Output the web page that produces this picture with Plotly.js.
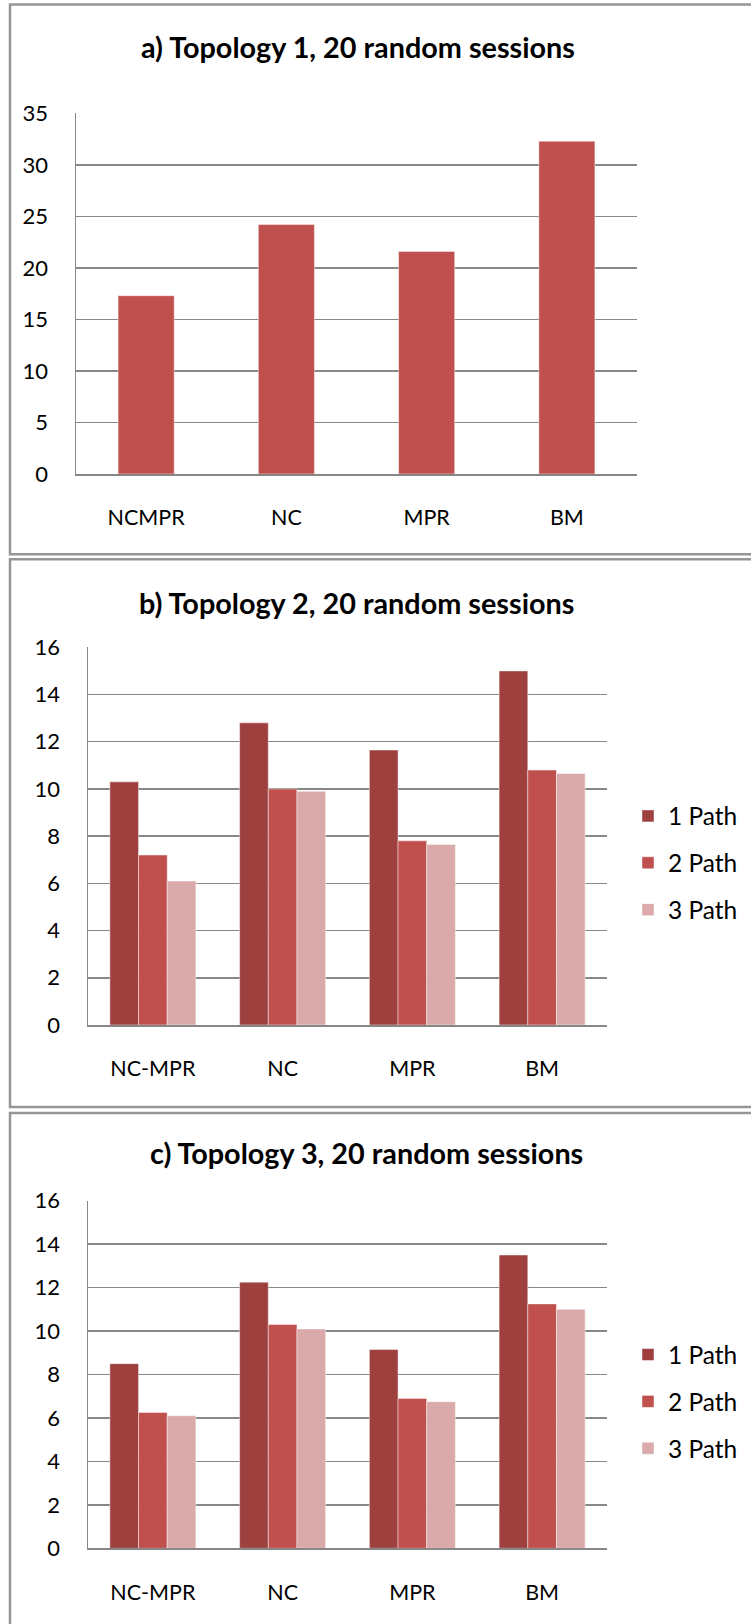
<!DOCTYPE html>
<html>
<head>
<meta charset="utf-8">
<script src="https://cdn.plot.ly/plotly-3.0.1.min.js"></script>
<style>
html,body{margin:0;padding:0;background:#fff;}
#chart{width:751px;height:1624px;}
</style>
</head>
<body>
<div id="chart"></div>
<script>
// ---- data ----
const categoriesA = ['NCMPR', 'NC', 'MPR', 'BM'];
const categoriesBC = ['NC-MPR', 'NC', 'MPR', 'BM'];
const seriesNames = ['1 Path', '2 Path', '3 Path'];
const titleA = 'a) Topology 1, 20 random sessions';
const titleB = 'b) Topology 2, 20 random sessions';
const titleC = 'c) Topology 3, 20 random sessions';

const valuesA = [17.3, 24.2, 21.6, 32.3];

const valuesB1 = [10.3, 12.8, 11.65, 15.0];
const valuesB2 = [7.2, 10.0, 7.8, 10.8];
const valuesB3 = [6.1, 9.9, 7.65, 10.65];

const valuesC1 = [8.5, 12.25, 9.15, 13.5];
const valuesC2 = [6.25, 10.3, 6.9, 11.25];
const valuesC3 = [6.1, 10.1, 6.75, 11.0];

const ticksA = [0, 5, 10, 15, 20, 25, 30, 35];
const ticksBC = [0, 2, 4, 6, 8, 10, 12, 14, 16];

// ---- styling ----
const W = 751, H = 1624;
const colors = ['#9E413E', '#C0504D', '#D9AAA9'];
const FONT = 'Lato, "Open Sans", sans-serif';
const px = v => v / W;
const py = v => 1 - v / H;
const barLine = {color: 'rgba(255,255,255,0.45)', width: 1};

const traces = [];
traces.push({
  type: 'bar', x: categoriesA, y: valuesA, name: seriesNames[0],
  xaxis: 'x', yaxis: 'y', width: 0.4, legend: 'legend',
  marker: {color: colors[1], line: barLine}, hoverinfo: 'x+y'
});
const bSets = [valuesB1, valuesB2, valuesB3];
const cSets = [valuesC1, valuesC2, valuesC3];
bSets.forEach((vals, i) => traces.push({
  type: 'bar', x: categoriesBC, y: vals, name: seriesNames[i],
  xaxis: 'x2', yaxis: 'y2', legend: 'legend2', legendgroup: 'b' + i,
  marker: {color: colors[i], line: barLine}
}));
cSets.forEach((vals, i) => traces.push({
  type: 'bar', x: categoriesBC, y: vals, name: seriesNames[i],
  xaxis: 'x3', yaxis: 'y3', legend: 'legend3', legendgroup: 'c' + i,
  marker: {color: colors[i], line: barLine}
}));

const gridColor = '#878787';
function yax(domain, range, ticks, anchor) {
  return {
    domain: domain, range: range, tickvals: ticks, anchor: anchor,
    showgrid: true, gridcolor: gridColor, gridwidth: 1.5,
    showline: true, linecolor: gridColor, linewidth: 1.5,
    zeroline: false, ticks: '', ticklabelstandoff: 22,
    tickfont: {family: FONT, size: 22, color: '#000'}, fixedrange: true
  };
}
function xax(domain, anchor) {
  return {
    domain: domain, anchor: anchor, type: 'category',
    showgrid: false, showline: true, linecolor: gridColor, linewidth: 1.5,
    ticks: '', ticklabelstandoff: 24,
    tickfont: {family: FONT, size: 21.5, color: '#000'}, fixedrange: true
  };
}

const legendCommon = {
  xanchor: 'left', yanchor: 'middle', bgcolor: 'rgba(0,0,0,0)',
  font: {family: FONT, size: 24.5, color: '#000'},
  traceorder: 'grouped', tracegroupgap: 12
};

function border(top, bottom) {
  return {
    type: 'rect', xref: 'paper', yref: 'paper',
    x0: px(10), x1: px(770), y0: py(bottom), y1: py(top),
    line: {color: '#969696', width: 2.5}, fillcolor: 'rgba(0,0,0,0)'
  };
}
function title(text, cx, cy) {
  return {
    text: '<b>' + text + '</b>', xref: 'paper', yref: 'paper',
    x: px(cx), y: py(cy), xanchor: 'center', yanchor: 'middle',
    showarrow: false, font: {family: FONT, size: 28.8, color: '#000'}
  };
}

const layout = {
  width: W, height: H,
  margin: {l: 0, r: 0, t: 0, b: 0},
  paper_bgcolor: '#fff', plot_bgcolor: '#fff',
  barmode: 'group', bargap: 0.337, bargroupgap: 0,
  font: {family: FONT, color: '#000'},
  xaxis: xax([px(76), px(637)], 'y'),
  yaxis: yax([py(474), py(113.3)], [0, 35], ticksA, 'x'),
  xaxis2: xax([px(88), px(607)], 'y2'),
  yaxis2: yax([py(1025), py(647.3)], [0, 16], ticksBC, 'x2'),
  xaxis3: xax([px(88), px(607)], 'y3'),
  yaxis3: yax([py(1548.3), py(1200.7)], [0, 16], ticksBC, 'x3'),
  legend: Object.assign({x: px(628), y: py(309)}, legendCommon),
  legend2: Object.assign({x: px(628), y: py(863)}, legendCommon),
  legend3: Object.assign({x: px(628), y: py(1401.6)}, legendCommon),
  shapes: [border(4.5, 554.3), border(559.3, 1107), border(1113, 1660)],
  annotations: [title(titleA, 358, 47), title(titleB, 356, 603), title(titleC, 366, 1153)]
};

Plotly.newPlot('chart', traces, layout, {displayModeBar: false, staticPlot: true});
</script>
</body>
</html>
